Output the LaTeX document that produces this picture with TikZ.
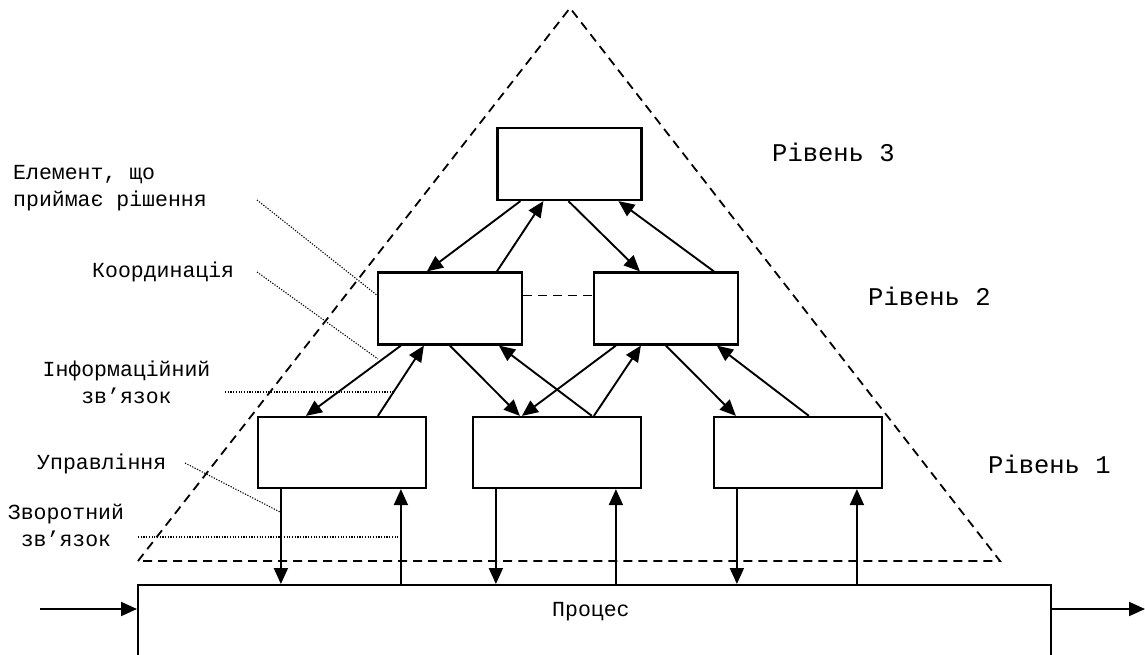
\documentclass[tikz,border=0pt]{standalone}
\usepackage{fontspec}
\newfontfamily\mono{Liberation Mono}
\usetikzlibrary{arrows.meta,calc}

\begin{document}
\begin{tikzpicture}[x=1pt,y=-1pt,
  blk/.style={draw,fill=white,line width=2.2pt,minimum width=144pt,minimum height=72pt,inner sep=0pt},
  blkwide/.style={blk,minimum width=168pt,minimum height=71pt},
  arr/.style={line width=1.9pt,-{Triangle[length=16pt,width=14pt]}},
  border/.style={dash pattern=on 9pt off 6pt,line width=1.8pt},
  leader/.style={dash pattern=on 1.2pt off 1.5pt,line width=1.1pt},
  lbl/.style={font=\mono\fontsize{21.5}{27}\selectfont,inner sep=0pt},
  lvl/.style={font=\mono\fontsize{25.5}{30}\selectfont,inner sep=0pt,anchor=base west}]

\useasboundingbox (0,0) rectangle (1145,655);
\clip (0,0) rectangle (1145,655);

% hierarchy boundary
\coordinate (apex) at (570,8);
\coordinate (cl) at (138,561);
\coordinate (cr) at (1000,561);
\draw[border] (cl) -- (apex) -- (cr) -- cycle;

% decision elements
\node[blk] (top) at (569.5,164) {};
\node[blk] (ml) at (450,308.5) {};
\node[blk] (mr) at (666,308.5) {};
\node[blkwide] (bl) at (342,452.5) {};
\node[blkwide] (bm) at (557,452.5) {};
\node[blkwide] (br) at (798,452.5) {};

% controlled process (open at the bottom)
\node[draw,line width=2.2pt,minimum width=913pt,minimum height=130pt,inner sep=0pt,anchor=north west] (proc) at (137,584) {};
\node[lbl,anchor=base west] (proctext) at (552,616) {Процес};

% level 3 <-> level 2
\draw[arr] ($(top.south west)+(24,0)$) -- ($(ml.north west)+(50,0)$);
\draw[arr] ($(ml.north west)+(120,0)$) -- ($(top.south west)+(47,0)$);
\draw[arr] ($(top.south west)+(72,0)$) -- ($(mr.north west)+(47,0)$);
\draw[arr] ($(mr.north west)+(121,0)$) -- ($(top.south west)+(122,0)$);

% coordination between level 2 elements
\draw[border] ($(ml.north east)+(0,24)$) -- ($(mr.north west)+(0,24)$);

% level 2 <-> level 1
\draw[arr] ($(ml.south west)+(24,0)$) -- ($(bl.north west)+(49,0)$);
\draw[arr] ($(bl.north west)+(121,0)$) -- ($(ml.south west)+(47,0)$);
\draw[arr] ($(ml.south west)+(73,0)$) -- ($(bm.north west)+(48,0)$);
\draw[arr] ($(bm.north west)+(120,0)$) -- ($(ml.south west)+(122,0)$);
\draw[arr] ($(mr.south west)+(23,0)$) -- ($(bm.north west)+(50,0)$);
\draw[arr] ($(bm.north west)+(122,0)$) -- ($(mr.south west)+(48,0)$);
\draw[arr] ($(mr.south west)+(73,0)$) -- ($(br.north west)+(23,0)$);
\draw[arr] ($(br.north west)+(96,0)$) -- ($(mr.south west)+(124,0)$);

% control and feedback with the process
\foreach \b in {bl,bm,br} {
  \coordinate (\b-dn) at ($(\b.south west)+(24,0)$);
  \coordinate (\b-up) at ($(\b.south west)+(144,0)$);
  \draw[arr] (\b-dn) -- (\b-dn |- proc.north);
  \draw[arr] (\b-up |- proc.north) -- (\b-up);
}

% process input and output
\coordinate (src) at (40,609);
\coordinate (snk) at (1145,609);
\draw[arr] (src) -- (src -| proc.west);
\draw[arr] (snk -| proc.east) -- (snk);

% legend labels
\node[lbl,anchor=west,align=left] (elem) at (13,188) {Елемент, що\\приймає рішення};
\node[lbl,anchor=base west] (coord) at (92,277) {Координація};
\node[lbl,align=center] (info) at (126.5,382) {Інформаційний\\зв’язок};
\node[lbl,anchor=base west] (ctrl) at (37,469) {Управління};
\node[lbl,align=center] (fb) at (66,525) {Зворотний\\зв’язок};

% leader lines
\coordinate (e1) at (257,200);  \coordinate (e2) at (378,296);
\coordinate (k1) at (257,272);  \coordinate (k2) at (378,359);
\coordinate (i1) at (225,392);  \coordinate (i2) at (393,392);
\coordinate (u1) at (185,463);  \coordinate (u2) at (280,512);
\coordinate (f1) at (138,537);  \coordinate (f2) at (400,537);
\draw[leader] (e1) -- (e2);
\draw[leader] (k1) -- (k2);
\draw[leader] (i1) -- (i2);
\draw[leader] (u1) -- (u2);
\draw[leader] (f1) -- (f2);

% level captions
\node[lvl] (lev3) at (772,162) {Рівень 3};
\node[lvl] (lev2) at (868,305) {Рівень 2};
\node[lvl] (lev1) at (988,473) {Рівень 1};
\end{tikzpicture}
\end{document}
